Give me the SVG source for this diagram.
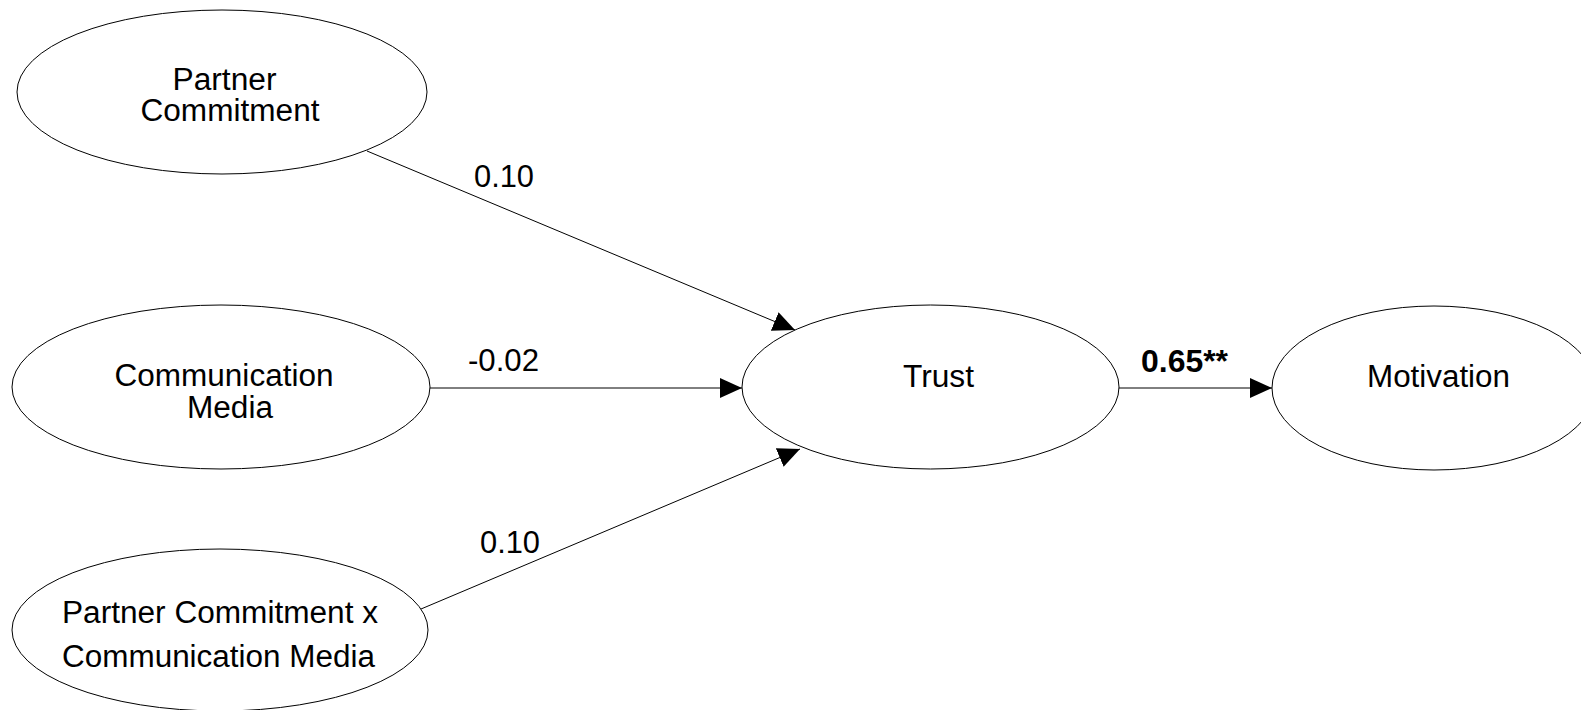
<svg xmlns="http://www.w3.org/2000/svg" width="1581" height="710" viewBox="0 0 1581 710">
<style>
.node ellipse{fill:#fff;stroke:#000;stroke-width:1}
.node text{font-family:"Liberation Sans",Arial,sans-serif;font-size:31px;fill:#000;text-anchor:middle}
.lbl{font-family:"Liberation Sans",Arial,sans-serif;font-size:31px;fill:#000}
.conn line{stroke:#000;stroke-width:1;fill:none}
</style>
<defs>
<marker id="arr" markerUnits="userSpaceOnUse" markerWidth="24" markerHeight="22" refX="22" refY="10" orient="auto">
<path d="M0,0 L22,10 L0,20 Z" fill="#000"/>
</marker>
</defs>
<rect width="1581" height="710" fill="#fff"/>
<g class="conn" id="connectors">
<line x1="367" y1="151" x2="795" y2="330" marker-end="url(#arr)"/>
<line x1="429" y1="388" x2="742" y2="388" marker-end="url(#arr)"/>
<line x1="421" y1="609" x2="800" y2="449" marker-end="url(#arr)"/>
<line x1="1119" y1="388" x2="1272" y2="388" marker-end="url(#arr)"/>
</g>
<g id="labels">
<text class="lbl" x="474" y="187" textLength="60" lengthAdjust="spacingAndGlyphs">0.10</text>
<text class="lbl" x="468" y="371" textLength="71" lengthAdjust="spacingAndGlyphs">-0.02</text>
<text class="lbl" x="480" y="553" textLength="60" lengthAdjust="spacingAndGlyphs">0.10</text>
<text class="lbl" x="1141" y="372" font-weight="bold" font-size="32" textLength="87" lengthAdjust="spacingAndGlyphs">0.65**</text>
</g>
<g class="node" id="partner-commitment">
<ellipse cx="222" cy="92" rx="205" ry="82"/>
<text x="224.5" y="90" textLength="104" lengthAdjust="spacingAndGlyphs">Partner</text>
<text x="230" y="121" textLength="179" lengthAdjust="spacingAndGlyphs">Commitment</text>
</g>
<g class="node" id="communication-media">
<ellipse cx="221" cy="387" rx="209" ry="82"/>
<text x="224" y="386" textLength="219" lengthAdjust="spacingAndGlyphs">Communication</text>
<text x="230" y="418" textLength="86" lengthAdjust="spacingAndGlyphs">Media</text>
</g>
<g class="node" id="interaction">
<ellipse cx="220" cy="630" rx="208" ry="81"/>
<text x="220" y="623" textLength="316" lengthAdjust="spacingAndGlyphs">Partner Commitment x</text>
<text x="218.5" y="667" textLength="313" lengthAdjust="spacingAndGlyphs">Communication Media</text>
</g>
<g class="node" id="trust">
<ellipse cx="930.5" cy="387" rx="188.5" ry="82"/>
<text x="938.5" y="387" textLength="71" lengthAdjust="spacingAndGlyphs">Trust</text>
</g>
<g class="node" id="motivation">
<ellipse cx="1434" cy="388" rx="162" ry="82"/>
<text x="1438.5" y="387" textLength="143" lengthAdjust="spacingAndGlyphs">Motivation</text>
</g>
</svg>
